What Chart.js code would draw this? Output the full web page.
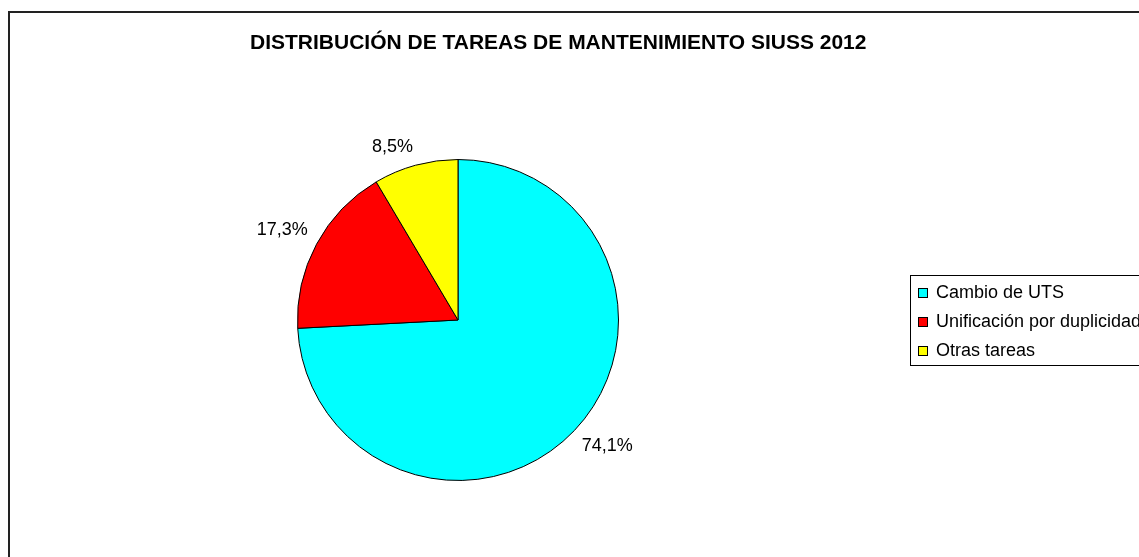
<!DOCTYPE html>
<html>
<head>
<meta charset="utf-8">
<script src="https://cdn.jsdelivr.net/npm/chart.js@4.4.0/dist/chart.umd.min.js"></script>
<style>
  html, body { margin: 0; padding: 0; background: #fff; }
  #wrap { width: 1139px; height: 557px; position: relative; }
</style>
</head>
<body>
<div id="wrap"><canvas id="graficoTareas"></canvas></div>
<script>
// Datos del gráfico
const categorias = ['Cambio de UTS', 'Unificación por duplicidad', 'Otras tareas'];
const porcentajes = [74.1, 17.3, 8.5];
const colores = ['#00FFFF', '#FF0000', '#FFFF00'];
const titulo = 'DISTRIBUCIÓN DE TAREAS DE MANTENIMIENTO SIUSS 2012';

const FUENTE = '"Liberation Sans", Arial, sans-serif';

// marco, título, etiquetas y leyenda al estilo Excel
const decoracion = {
    id: 'decoracion',
    beforeDraw(chart) {
        const ctx = chart.ctx;
        ctx.save();
        ctx.strokeStyle = '#222';
        ctx.lineWidth = 2;
        ctx.strokeRect(9, 12, chart.width + 20, chart.height + 20);
        ctx.restore();
    },
    afterDraw(chart) {
        const ctx = chart.ctx;
        ctx.save();
        // título
        ctx.fillStyle = '#000';
        ctx.font = 'bold 21px ' + FUENTE;
        ctx.textAlign = 'left';
        ctx.textBaseline = 'middle';
        ctx.fillText(titulo, 250, 43);

        // etiquetas de porcentaje
        ctx.font = '18px ' + FUENTE;
        chart.getDatasetMeta(0).data.forEach((arc, i) => {
            const mid = (arc.startAngle + arc.endAngle) / 2;
            const r = arc.outerRadius + 10;
            const c = Math.cos(mid), s = Math.sin(mid);
            const x = arc.x + r * c, y = arc.y + r * s;
            ctx.textAlign = c > 0.2 ? 'left' : (c < -0.2 ? 'right' : 'center');
            ctx.textBaseline = s > 0.3 ? 'top' : (s < -0.3 ? 'bottom' : 'middle');
            ctx.fillText(porcentajes[i].toFixed(1).replace('.', ',') + '%', x, y);
        });

        // leyenda
        const lx = 910, ly = 275;
        ctx.strokeStyle = '#000';
        ctx.lineWidth = 1;
        ctx.strokeRect(lx + 0.5, ly + 0.5, chart.width, 90);
        ctx.textAlign = 'left';
        ctx.textBaseline = 'middle';
        categorias.forEach((cat, i) => {
            const y = ly + 17 + i * 29;
            ctx.fillStyle = colores[i];
            ctx.fillRect(lx + 8, y - 4, 10, 10);
            ctx.strokeRect(lx + 8.5, y - 3.5, 9, 9);
            ctx.fillStyle = '#000';
            ctx.fillText(cat, lx + 26, y + 1);
        });
        ctx.restore();
    }
};

new Chart(document.getElementById('graficoTareas'), {
    type: 'pie',
    data: {
        labels: categorias,
        datasets: [{
            data: porcentajes,
            backgroundColor: colores,
            borderColor: '#000',
            borderWidth: 1
        }]
    },
    options: {
        responsive: true,
        maintainAspectRatio: false,
        animation: false,
        layout: { padding: { left: 297, right: 520, top: 159, bottom: 76 } },
        plugins: {
            legend: { display: false },
            title: { display: false },
            tooltip: { enabled: false }
        }
    },
    plugins: [decoracion]
});
</script>
</body>
</html>
